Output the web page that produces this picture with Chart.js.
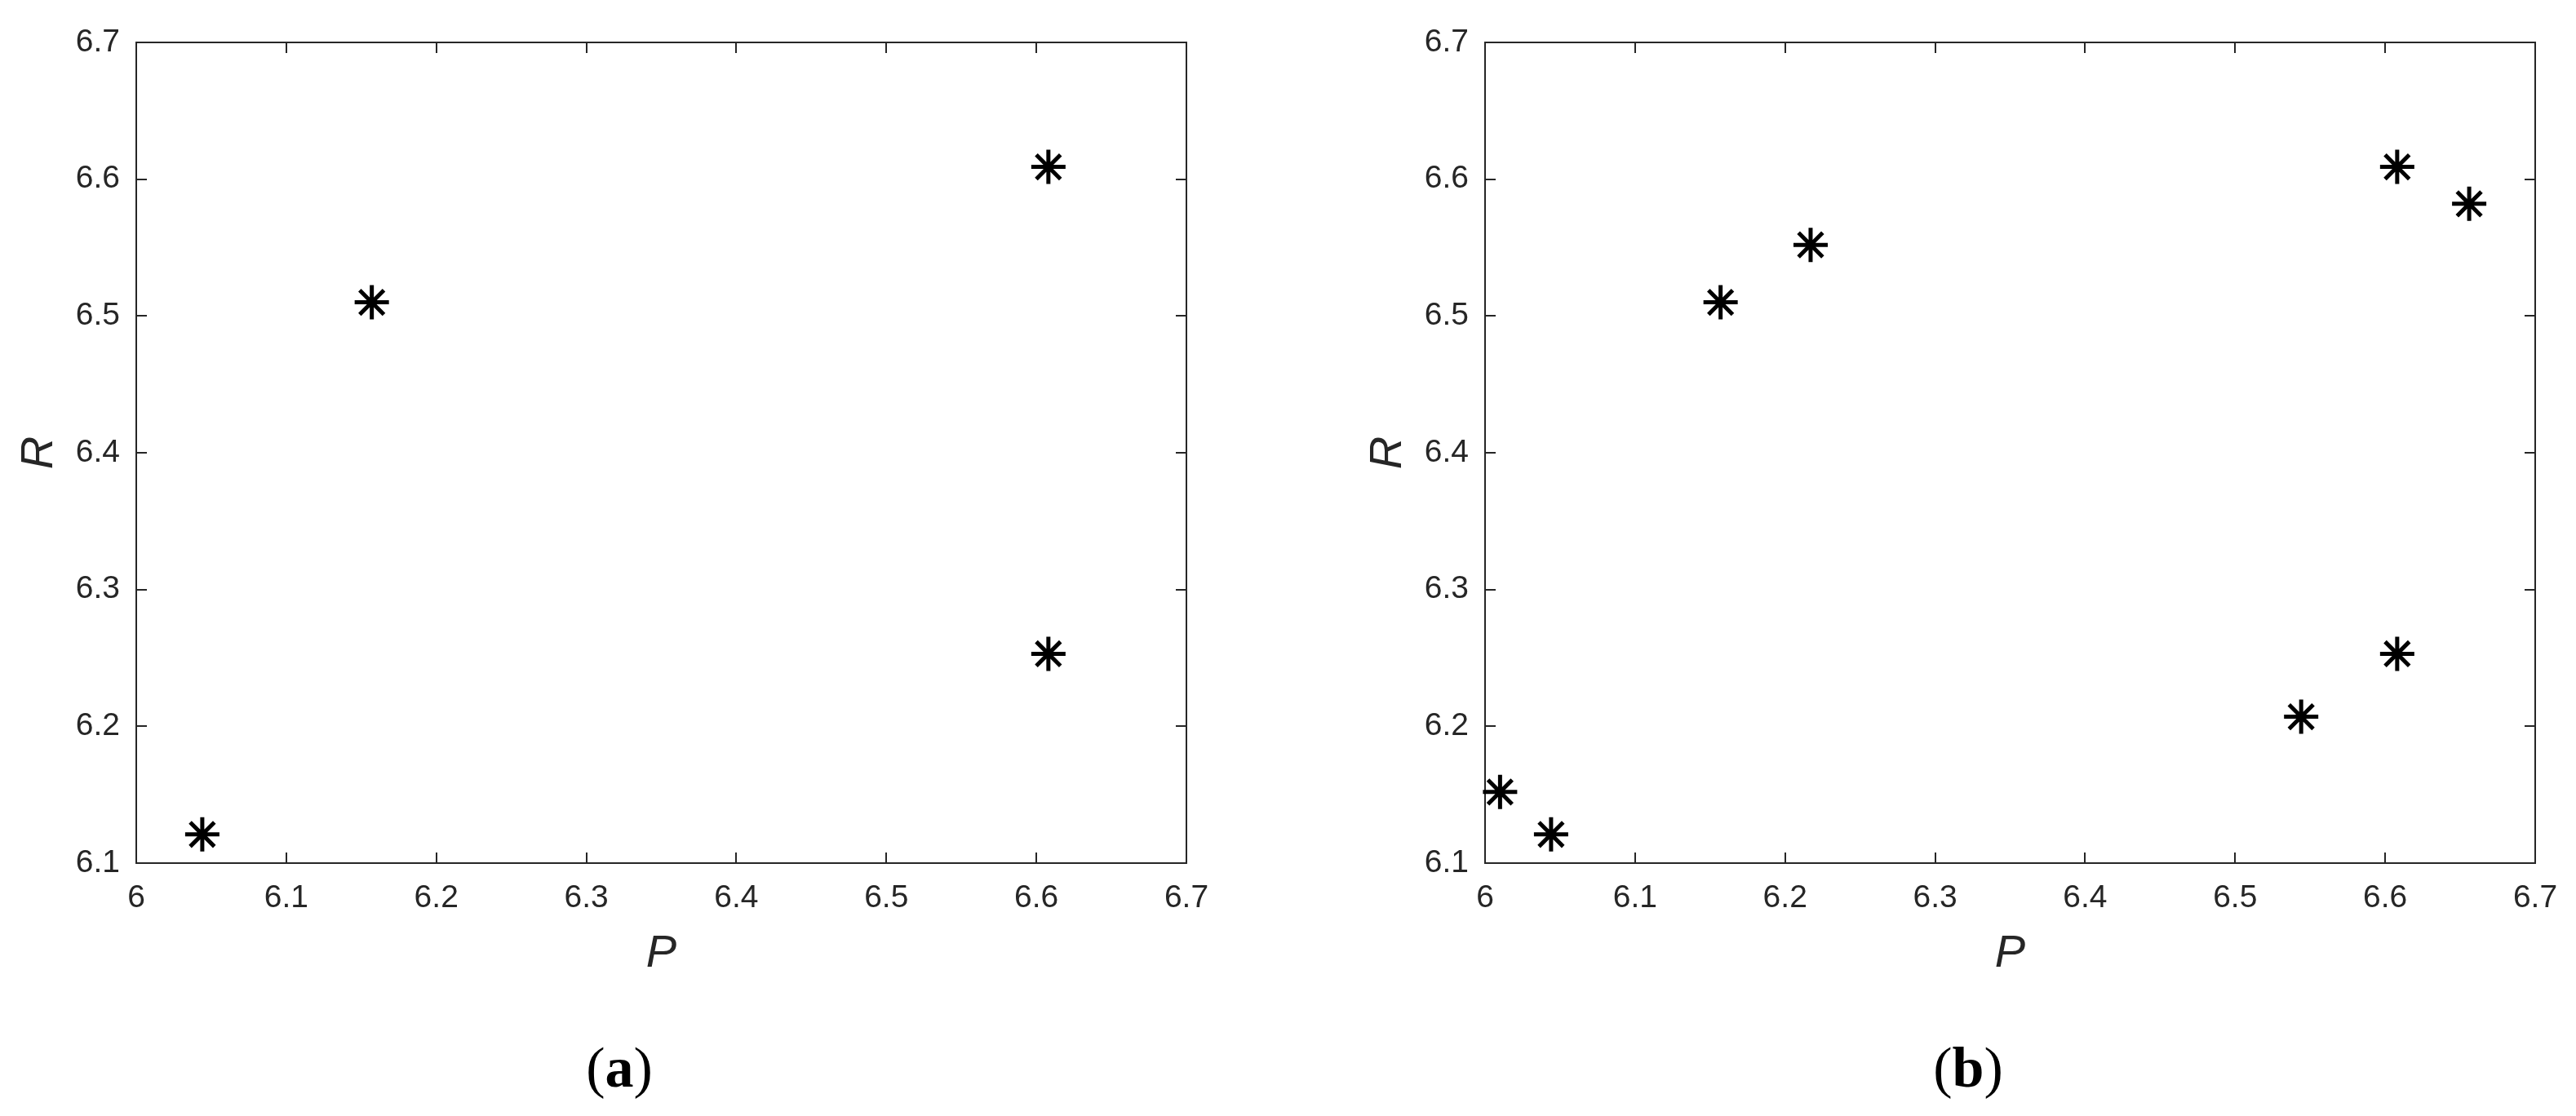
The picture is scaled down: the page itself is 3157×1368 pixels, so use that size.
<!DOCTYPE html>
<html>
<head>
<meta charset="utf-8">
<script src="https://cdn.jsdelivr.net/npm/chart.js@4.4.1/dist/chart.umd.min.js"></script>
<style>
  html, body { margin: 0; padding: 0; background: #ffffff; }
  #wrap { position: relative; width: 3157px; height: 1368px; background: #ffffff; }
  canvas { position: absolute; top: 0; }
  #cA { left: 0px; }
  #cB { left: 1653px; }
</style>
</head>
<body>
<div id="wrap">
  <canvas id="cA" width="1504" height="1368"></canvas>
  <canvas id="cB" width="1504" height="1368"></canvas>
</div>
<script>
// ---- data ----
const xTicks = [6, 6.1, 6.2, 6.3, 6.4, 6.5, 6.6, 6.7];
const yTicks = [6.1, 6.2, 6.3, 6.4, 6.5, 6.6, 6.7];
const xTitle = 'P';
const yTitle = 'R';
const pA = [6.044, 6.157, 6.608, 6.608];
const rA = [6.121, 6.510, 6.609, 6.253];
const pB = [6.010, 6.044, 6.157, 6.217, 6.544, 6.608, 6.608, 6.656];
const rB = [6.152, 6.121, 6.510, 6.552, 6.207, 6.609, 6.253, 6.582];
const captionA = 'a';
const captionB = 'b';

const AXC = '#262626';

const boxPlugin = {
  id: 'matlabBox',
  beforeDatasetsDraw(chart) {
    const { ctx, chartArea: a, scales } = chart;
    ctx.save();
    ctx.strokeStyle = AXC;
    ctx.lineWidth = 2;
    ctx.strokeRect(a.left, a.top, a.right - a.left, a.bottom - a.top);
    const tl = 13;
    ctx.beginPath();
    scales.x.ticks.forEach(t => {
      const px = Math.round(scales.x.getPixelForValue(t.value));
      ctx.moveTo(px, a.bottom); ctx.lineTo(px, a.bottom - tl);
      ctx.moveTo(px, a.top); ctx.lineTo(px, a.top + tl);
    });
    scales.y.ticks.forEach(t => {
      const py = Math.round(scales.y.getPixelForValue(t.value));
      ctx.moveTo(a.left, py); ctx.lineTo(a.left + tl, py);
      ctx.moveTo(a.right, py); ctx.lineTo(a.right - tl, py);
    });
    ctx.stroke();
    ctx.restore();
  },
  afterDraw(chart, args, opts) {
    const { ctx } = chart;
    const cap = opts.caption;
    if (!cap) return;
    ctx.save();
    ctx.fillStyle = '#000000';
    ctx.textBaseline = 'alphabetic';
    const fN = '70px "Liberation Serif"';
    const fB = 'bold 70px "Liberation Serif"';
    ctx.font = fN; const w1 = ctx.measureText('(').width;
    ctx.font = fB; const w2 = ctx.measureText(cap).width;
    ctx.font = fN; const w3 = ctx.measureText(')').width;
    const total = w1 + w2 + w3;
    let x = opts.cx - total / 2;
    const y = opts.cy;
    ctx.textAlign = 'left';
    ctx.font = fN; ctx.fillText('(', x, y); x += w1;
    ctx.font = fB; ctx.fillText(cap, x, y); x += w2;
    ctx.font = fN; ctx.fillText(')', x, y);
    ctx.restore();
  }
};

function makeChart(id, px, py, caption) {
  const pts = px.map((v, i) => ({ x: v, y: py[i] }));
  return new Chart(document.getElementById(id), {
    type: 'scatter',
    data: {
      datasets: [{
        data: pts,
        pointStyle: 'star',
        pointRadius: 21,
        pointHoverRadius: 21,
        pointBorderWidth: 5,
        pointHoverBorderWidth: 5,
        borderColor: '#000000',
        backgroundColor: 'rgba(0,0,0,0)',
        clip: false
      }]
    },
    options: {
      responsive: false,
      animation: false,
      devicePixelRatio: 1,
      events: [],
      layout: { padding: { left: 0, top: 52, right: 50, bottom: 171 } },
      plugins: {
        legend: { display: false },
        tooltip: { enabled: false },
        matlabBox: { caption: caption, cx: 759, cy: 1332 }
      },
      scales: {
        x: {
          type: 'linear',
          position: 'bottom',
          min: xTicks[0],
          max: xTicks[xTicks.length - 1],
          afterBuildTicks: (s) => { s.ticks = xTicks.map(v => ({ value: v })); },
          afterFit: (s) => { s.height = 139; },
          grid: { display: false, drawTicks: false },
          border: { display: false },
          ticks: {
            color: AXC,
            padding: 20,
            maxRotation: 0,
            autoSkip: false,
            font: { family: '"Liberation Sans"', size: 39 },
            callback: (v) => String(v)
          },
          title: {
            display: true,
            text: xTitle,
            color: AXC,
            padding: { top: 0, bottom: 0 },
            font: { family: '"Liberation Sans"', size: 56, style: 'italic', lineHeight: 1 }
          }
        },
        y: {
          type: 'linear',
          position: 'left',
          min: yTicks[0],
          max: yTicks[yTicks.length - 1],
          afterBuildTicks: (s) => { s.ticks = yTicks.map(v => ({ value: v })); },
          afterFit: (s) => { s.width = 167; },
          grid: { display: false, drawTicks: false },
          border: { display: false },
          ticks: {
            color: AXC,
            padding: 20,
            autoSkip: false,
            font: { family: '"Liberation Sans"', size: 39 },
            callback: (v) => String(v)
          },
          title: {
            display: true,
            text: yTitle,
            color: AXC,
            padding: { top: 20, bottom: 0 },
            font: { family: '"Liberation Sans"', size: 56, style: 'italic', lineHeight: 1 }
          }
        }
      }
    },
    plugins: [boxPlugin]
  });
}

makeChart('cA', pA, rA, captionA);
makeChart('cB', pB, rB, captionB);
</script>
</body>
</html>
